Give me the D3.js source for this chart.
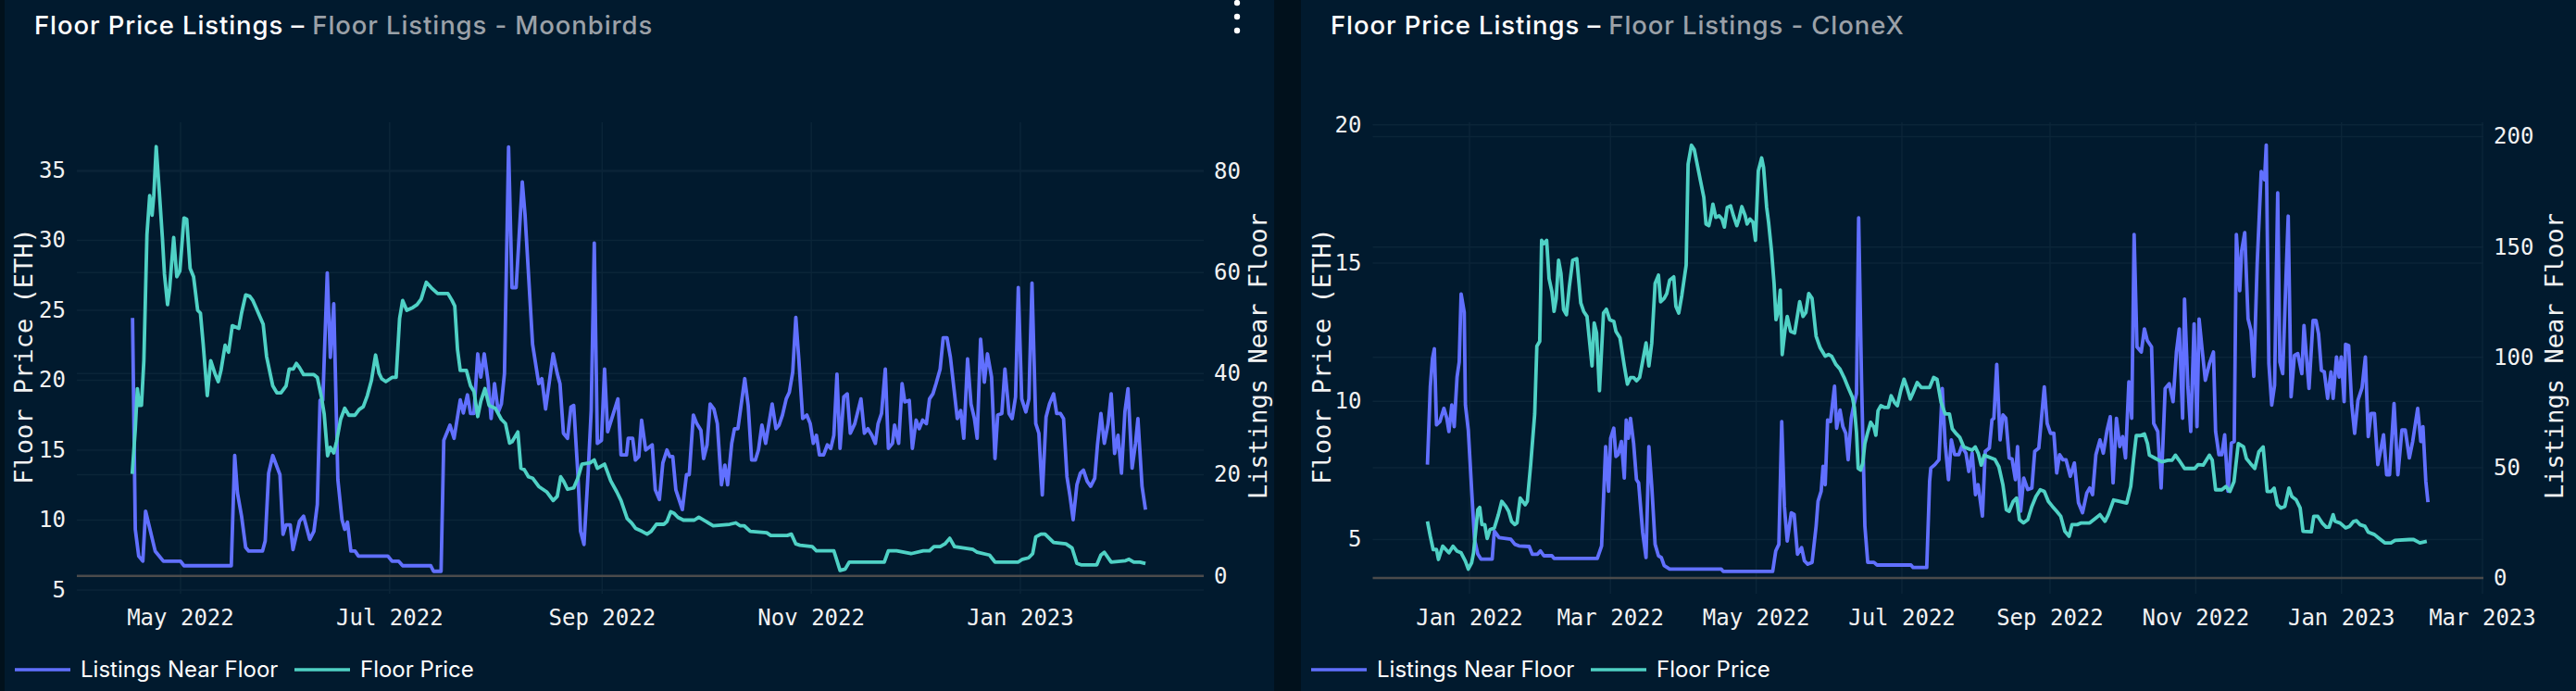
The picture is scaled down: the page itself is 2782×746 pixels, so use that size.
<!DOCTYPE html>
<html>
<head>
<meta charset="utf-8">
<script src="https://cdn.jsdelivr.net/npm/d3@7"></script>
<style>
  body { margin: 0; background: #01111c; }
  svg { display: block; }
</style>
</head>
<body>
<svg id="chart" width="2782" height="746"></svg>
<script>
// Series are [days from base date, value].
const MOONBIRDS_BASE = "2022-05-01";
const CLONEX_BASE = "2022-01-01";

const moonbirdsListings = [[-14,51],[-13.2,9.2],[-12.2,3.9],[-11,2.9],[-10.2,12.8],[-7.4,4.9],[-5,2.9],[0,2.9],[1,2],[14.8,2],[15.8,23.8],[16.6,16.4],[17.8,11.8],[19,5.6],[19.9,4.9],[23.9,4.9],[24.7,6.9],[25.7,20.3],[26.9,23.8],[29,20],[29.9,8.2],[30.8,10.1],[32,10.1],[32.8,5.2],[34.7,10.8],[35.9,11.8],[37.7,7.2],[38.9,8.8],[39.9,14.1],[40.7,34.7],[41.5,34.7],[42.8,59.9],[43.7,43.2],[44.7,53.8],[45.9,19],[47.1,11.1],[47.9,9.2],[48.7,10.6],[49.7,4.9],[50.9,4.9],[51.9,3.9],[60.5,3.9],[61.7,2.9],[63.6,2.9],[64.8,2],[73,2],[73.8,0.9],[76,0.9],[76.8,26.8],[78,28.8],[78.6,29.8],[79.8,27.2],[81.6,34.8],[82.5,32.2],[83.7,35.8],[84.6,32.1],[85.6,32.1],[86.7,43.9],[87.6,39.3],[88.6,43.9],[89.7,38.6],[90.6,31.1],[91.6,38],[92.7,32.4],[93.6,34],[94.5,40],[95.7,84.8],[96.7,57],[97.9,57],[99.7,77.9],[100.5,71.4],[102.7,45.8],[104.5,38],[105.4,39],[106.5,33],[108.7,43.9],[109.9,40],[110.7,38],[111.7,28.2],[112.9,27.2],[113.9,33.4],[114.7,33.7],[115.9,20.3],[116.7,8.8],[117.7,6.2],[118.9,20.3],[119.8,32.7],[120.7,65.8],[121.6,26.2],[122.8,26.8],[123.7,40.9],[124.6,28.5],[127.6,35],[128.5,23.9],[130.1,23.9],[130.6,27.2],[131.9,27.2],[132.7,22.9],[133.7,23.6],[134.5,30.8],[135.7,24.9],[137.6,25.9],[138.5,17],[139.7,15.1],[140.7,22.3],[141.9,24.9],[142.7,23.6],[143.6,23.6],[144.5,17],[146.4,13.1],[147.6,20],[148.4,20],[149.6,31.8],[150.6,30.1],[151.8,28.8],[152.6,23.2],[153.6,25.9],[154.5,34],[155.6,33],[156.6,30.1],[157.8,18],[158.8,21.9],[159.6,18],[160.8,26.2],[161.6,29.1],[162.6,29.1],[164.6,39],[165.6,33.7],[166.6,22.9],[167.7,22.9],[168.6,24.9],[169.6,29.8],[170.7,26.2],[172.6,34],[173.7,29.1],[174.6,29.8],[175.6,31.8],[176.7,35],[177.6,36.3],[178.6,40.3],[179.5,51.1],[180.4,42.6],[181.5,31.1],[182.7,31.8],[183.7,30.1],[184.6,26.2],[185.5,27.8],[186.4,23.9],[187.6,23.9],[188.7,25.9],[189.7,25.2],[190.6,27.8],[191.5,39.9],[192.4,25.2],[193.5,35.4],[194.5,36],[195.4,28.2],[196.7,30.1],[198.5,35],[199.5,28.2],[200.5,29.1],[201.7,27.8],[202.7,26.2],[203.5,30.1],[204.5,32.1],[205.6,40.9],[206.5,25.2],[207.7,26.2],[208.3,29.8],[209.5,26.2],[210.5,38],[211.3,34.4],[212.6,34.7],[213.5,25.2],[214.6,30.8],[215.5,29.1],[216.5,30.8],[217.6,30.1],[218.5,35],[219.5,36],[220.4,38],[221.6,40.9],[222.5,47.1],[223.6,47.1],[224.6,43.2],[225.8,36],[226.6,31.1],[227.6,32.7],[228.5,27.2],[229.6,42.9],[230.6,34],[231.6,31.1],[232.4,27.2],[233.4,46.8],[234.5,38.3],[235.4,43.9],[236.6,39.3],[237.6,23.2],[238.4,31.8],[239.6,32.1],[240.5,40.9],[241.7,32.1],[242.6,31.1],[243.6,35.4],[244.4,57],[245.4,35],[246.6,32.4],[247.5,35],[248.4,57.9],[249.5,30.1],[250.4,28.2],[251.4,16],[252.5,31.4],[253.5,34],[254.7,36],[255.6,32.1],[256.7,32.1],[257.6,31.1],[258.6,19.6],[259.5,15.7],[260.4,11.1],[261.5,18],[262.5,20.3],[263.4,20.9],[264.5,18.7],[265.5,17.7],[266.7,19.3],[267.5,25.9],[268.5,32.1],[269.5,26.2],[270.6,30.1],[271.5,36],[272.5,24.2],[273.5,27.8],[274.5,20.3],[275.5,32.4],[276.4,37],[277.6,21.3],[278.6,26.2],[279.3,31.1],[280.5,17.7],[281.5,13.1]];

const moonbirdsFloor = [[-14.1,13.3],[-13.2,16.5],[-12.6,19.4],[-12,18.2],[-11.4,18.2],[-10.7,21.4],[-9.8,30.4],[-9,33.2],[-8.3,31.8],[-7.8,33.2],[-7.1,36.7],[-6.2,33.5],[-5.3,30.2],[-4.7,27.6],[-3.8,25.4],[-3.2,26.5],[-2,30.2],[-1.1,27.4],[-0.2,27.8],[1,31.6],[1.8,31.5],[2.8,28],[3.8,27.4],[5,25],[5.8,24.8],[6.6,22.6],[7.8,18.9],[8.8,21.4],[10,20.5],[11,19.9],[11.8,20.7],[13,22.5],[14,22],[15.1,23.9],[17,23.7],[17.8,24.8],[19,26.1],[20.2,26],[21.1,25.7],[22,25.2],[24.1,24],[25.1,21.7],[26.9,19.6],[28.1,19.1],[29.3,19.1],[30.8,19.6],[31.7,20.8],[32.9,20.8],[33.8,21.2],[34.7,20.9],[35.9,20.4],[38.9,20.4],[39.9,20.2],[41.1,18.8],[41.9,17.6],[42.9,14.6],[43.7,15.2],[44.7,14.8],[45.5,15.6],[46.7,17.2],[47.9,18],[49.1,17.5],[50.9,17.5],[52.1,17.9],[53.3,18.1],[54.5,18.9],[55.7,20],[56.9,21.8],[57.9,20.5],[58.7,20.1],[59.9,19.9],[61.7,20.2],[62.9,20.2],[63.9,24.4],[64.8,25.7],[66,25],[67.8,25.2],[69,25.4],[70.2,25.8],[71.7,27],[73.2,26.6],[75,26.2],[78,26.2],[79.2,25.7],[80,25.3],[80.8,22.2],[81.6,20.7],[83.4,20.7],[84.6,19.6],[85.6,19.2],[86.7,17.4],[87.6,18.5],[88.8,19.4],[90,18.2],[91.8,18],[93.6,17.2],[94.8,16.9],[96,15.5],[96.7,15.6],[98.4,16.3],[99.3,13.7],[100.3,13.6],[101.5,13.1],[102.7,13],[104.5,12.4],[106.9,12],[108.7,11.4],[109.9,11.7],[110.9,13.1],[111.7,12.8],[112.9,12.2],[114.7,12.3],[115.9,13],[117.1,14],[119.5,14.1],[120.7,14.3],[121.6,13.7],[123.7,14],[125.5,12.8],[127.3,12],[128.5,11.4],[130.3,10.1],[131.6,9.8],[132.8,9.4],[134.6,9.2],[136.1,9],[137.3,9.2],[138.8,9.7],[141,9.7],[141.9,9.9],[143,10.6],[143.9,10.5],[145.1,10.2],[146.7,10],[149.9,10],[151.2,10.2],[155.4,9.6],[160.2,9.7],[162,9.8],[163.2,9.6],[164.4,9.6],[166.2,9.2],[171,9.1],[172.2,8.9],[177,8.9],[178.2,9],[179.5,8.3],[180.7,8.2],[184.3,8.1],[185.5,7.8],[190.6,7.8],[192.4,6.4],[193.9,6.5],[195.1,7],[205.3,7],[206.5,7.8],[208.9,7.8],[213.1,7.6],[216.7,7.8],[218.5,7.8],[219.8,8.1],[221.6,8.1],[223,8.3],[224.4,8.7],[225.8,8.1],[231.2,7.9],[232.4,7.7],[236,7.5],[237.6,7],[244.4,7],[245.6,7.2],[247.4,7.3],[248.6,7.6],[249.5,8.8],[251,9],[252.2,9],[254.7,8.4],[258.3,8.3],[260.1,8],[261.5,6.9],[262.7,6.8],[267.3,6.8],[268.5,7.5],[269.5,7.7],[271.5,7],[275.7,7.1],[276.7,7.2],[278.1,7],[279.9,7],[281.5,6.9]];

const clonexListings = [[-17.6,51.4],[-16.4,86.6],[-15.5,99.4],[-14.7,103.9],[-13.8,69.4],[-12.4,70.9],[-10.7,76.9],[-9.5,72.4],[-8.6,66.4],[-7.4,78.4],[-6.4,68.6],[-5.2,91.1],[-4.3,97.9],[-3.5,128.7],[-2.2,120.4],[-1.7,78.4],[-0.5,67.1],[0.9,40.1],[2.1,17.6],[3.5,10.8],[4.8,8.6],[9.5,8.6],[10.4,21.3],[12.4,18.3],[17.3,17.6],[19,15.3],[20.7,14.6],[25,14.3],[26.3,10.8],[28.5,10.8],[29.7,12.3],[31.1,10.1],[34.5,10.1],[35.4,8.9],[53.5,8.9],[55.3,14.6],[57,59.6],[58.2,39.3],[59.1,63.4],[60.4,67.9],[61.3,55.1],[62.2,55.9],[63.6,61.9],[64.8,45.3],[65.6,71.6],[66.5,63.4],[67.4,72.4],[68.7,61.1],[69.9,44.6],[70.8,43.1],[72.5,20.6],[73.9,9.3],[75.1,59.6],[76.3,41.6],[77.7,15.3],[79.1,10.1],[80.3,9.3],[81.5,5.6],[83.8,4.1],[105.4,4.1],[106.2,3],[126.9,3],[128.2,12.3],[129.5,15.3],[130.7,70.9],[131.8,32.6],[133,16.8],[134.7,29.6],[135.9,28.8],[137.3,10.8],[139,13.8],[140.2,7.8],[141.6,6.3],[143.4,7.1],[145.1,23.6],[145.9,34.8],[147.2,39.3],[148,50.6],[148.9,42.3],[149.9,71.6],[151.1,70.9],[152.8,86.9],[153.7,67.9],[155.1,76.1],[156.3,68.6],[157.5,65.6],[158.5,53.6],[159.8,72.4],[160.6,76.9],[162,83.6],[162.9,163.2],[164.1,89.6],[165.5,23.6],[166.7,7.1],[169.3,7.1],[170.6,5.9],[184.8,5.9],[185.7,4.8],[191.4,4.8],[192.6,43.8],[193.1,49.8],[194.8,51.4],[196.5,53.6],[197.9,85.9],[199.1,61.1],[200.5,44.6],[201.7,62.6],[203.1,55.9],[204.8,55.9],[206,59.6],[207.8,56.6],[209,48.3],[210.4,56.6],[211.8,37.8],[212.9,42.3],[214.7,28.1],[215.9,57.4],[217.6,58.9],[218.7,71.6],[219.5,72.4],[220.7,96.8],[222.1,62.6],[223.3,73.9],[224.5,72.4],[225.9,54.4],[227.1,53.9],[228.5,44.6],[229.4,59.6],[230.7,30.3],[232,45.3],[233.7,40.1],[235.4,40.8],[236.6,57.4],[238.3,58.9],[240.6,86.6],[241.8,70.1],[243.2,65.6],[244.6,65.6],[245.8,47.6],[247,55.9],[248.4,53.6],[249.7,53.6],[251.5,46.1],[253.2,52.1],[254.9,34.1],[256.6,29.6],[258.4,38.6],[259.6,40.8],[260.8,37.8],[262.2,55.9],[263.9,62.6],[265.3,56.6],[266.9,67.1],[268.2,73.1],[269.4,43.1],[270.8,72.4],[272.2,59.6],[273.4,64.1],[274.6,54.4],[276,88.9],[277.2,72.4],[278.2,155.7],[279.4,104.7],[281.2,102.4],[282.5,112.9],[283.7,107.7],[285.5,104.7],[286.4,70.1],[288.1,66.4],[289.5,40.8],[291.2,85.9],[292.9,88.1],[294.5,79.9],[295.9,102.4],[297.1,112.9],[298.5,72.4],[299.3,126.4],[300.7,86.6],[301.9,66.4],[303.3,115.2],[304.5,68.6],[305.4,117.4],[306.7,103.2],[308,89.6],[309.7,97.1],[311.4,102.4],[312.3,66.4],[313.7,55.9],[314.9,55.9],[316.1,64.9],[317.5,39.3],[318.9,61.1],[320.1,61.9],[321,155.7],[322.4,130.2],[323.2,148.2],[324.5,156.5],[325.9,117.4],[327.1,112.2],[328.3,91.4],[329.7,142.2],[331.4,184.2],[332.8,180.5],[333.5,196.2],[334.6,97.1],[335.8,78.4],[337,87.4],[338.3,174.5],[339.2,97.9],[340.4,92.6],[341.8,136.9],[342.7,164],[343.9,82.1],[345.3,100.9],[346.7,101.7],[348.4,92.6],[349.3,114.4],[351.4,85.9],[353.1,116.7],[354.3,116.7],[355.4,110.7],[356.6,94.1],[357.8,93.4],[359.2,81.4],[360.6,93.4],[361.5,81.4],[362.9,100.2],[364,91.1],[364.9,100.2],[366.1,79.9],[366.7,105.9],[368,105.4],[369.3,78.4],[370.5,65.6],[371.9,80.6],[373.6,86.2],[375,100.2],[376.2,64.1],[377.4,74.6],[378.8,74.6],[380.2,51.4],[381.3,57.4],[382.6,64.9],[383.9,46.8],[385.1,46.8],[387,79.1],[388.6,46.8],[390.3,67.1],[391.7,67.1],[393.4,54.4],[394.8,61.9],[396.9,76.9],[398.2,61.9],[399.1,68.6],[400.3,43.8],[401.2,34.4]];

const clonexFloor = [[-17.6,5.66],[-16.4,5.12],[-15.2,4.64],[-13.8,4.64],[-13,4.28],[-11.2,4.76],[-8.6,4.52],[-6.9,4.76],[-5.2,4.58],[-3.5,4.52],[-1.7,4.22],[-0.5,3.93],[0.9,4.16],[1.7,4.52],[3.5,6.08],[4.3,6.16],[5.2,5.54],[6.4,5.54],[7.4,5.04],[8.6,5.36],[10.4,5.42],[12.1,5.9],[13.5,6.38],[15.2,6.2],[16.4,6.02],[17.6,5.66],[19,5.54],[19.9,5.6],[21.2,6.5],[23.3,6.26],[24.2,6.38],[25.6,7.69],[27.3,9.54],[28.2,11.99],[29.4,12.17],[30.2,15.82],[31.1,15.7],[32.3,15.82],[33.3,14.44],[34.5,13.96],[35.4,13.25],[36.3,13.72],[37.3,15.1],[38.3,14.62],[39.4,13.31],[40.6,13.13],[41.8,14.14],[43.2,15.1],[44.9,15.16],[46.6,13.55],[47.8,13.25],[49.2,13.07],[51.3,11.28],[52.2,12.83],[53.2,12.47],[54.4,10.38],[56.1,13.19],[57.3,13.33],[58.7,12.95],[60.4,12.89],[61.3,12.53],[63,12.29],[64.8,11.28],[66.1,10.62],[67.4,10.86],[68.7,10.86],[69.9,10.74],[71.2,10.86],[72.5,11.45],[73.9,12.11],[75.1,11.28],[76.3,12.11],[77.7,14.26],[79.1,14.56],[80,13.6],[81.5,13.72],[82.6,13.9],[83.8,14.38],[85.5,14.5],[86.4,13.43],[87.6,13.19],[88.9,13.84],[90.7,14.92],[91.5,18.57],[92.9,19.26],[94.1,19.1],[96.7,17.97],[98.1,17.37],[99,16.41],[100.2,16.35],[101,16.65],[101.9,17.13],[103.1,16.65],[104.5,16.71],[105.7,16.59],[106.7,16.3],[107.9,17.01],[109.3,17.07],[110.5,16.71],[111.9,16.35],[112.8,16.59],[114,17.04],[115.4,16.71],[116.2,16.41],[117.4,16.59],[118.7,16.47],[119.7,15.82],[120.9,18.33],[122.3,18.8],[123.1,18.45],[124.4,17.01],[125.2,16.47],[126.4,15.46],[127.5,14.26],[128.3,12.95],[129.2,13.25],[130.1,14.02],[130.9,11.69],[132.1,12.59],[133,13.07],[134.4,12.53],[136.1,12.47],[138.2,13.6],[139.6,13.07],[140.8,13.21],[142,13.9],[143.4,13.72],[145.1,12.35],[146.8,11.93],[148.9,11.63],[150.3,11.69],[151.6,11.63],[153.4,11.33],[155.1,11.16],[156.8,10.86],[158.5,10.5],[160.3,10.14],[161.1,9.78],[162,8.88],[162.7,7.57],[163.7,7.51],[164.6,7.75],[165.5,8.47],[166.7,8.88],[167.9,9.24],[169.3,9.06],[170.1,8.77],[171,9.66],[172.2,9.84],[173.6,9.78],[175.3,9.78],[176.5,10.2],[177.9,9.96],[179.1,9.84],[180.5,10.38],[181.9,10.8],[183.1,10.5],[184.5,10.08],[185.7,10.32],[187.4,10.68],[189.1,10.5],[192.6,10.5],[194.3,10.86],[195.7,10.8],[197.4,9.96],[199.1,9.54],[200.9,9.54],[202.1,9],[203.8,8.82],[205.2,8.7],[206.9,8.35],[208.6,8.29],[210.4,8.23],[211.7,8.35],[213,8.11],[214.2,7.69],[215.5,8.05],[217.2,7.99],[219.9,7.9],[221.6,7.63],[223.3,6.97],[224.7,6.08],[225.9,6.02],[227.6,6.38],[229,6.5],[230.2,5.72],[231.9,5.6],[233.7,5.72],[235.4,6.2],[237.1,6.56],[238.9,6.8],[240.6,6.74],[242.3,6.38],[244,6.2],[245.8,6.02],[247.5,5.84],[249.2,5.3],[251,5.12],[252.2,5.54],[254.4,5.54],[256.1,5.6],[259.6,5.6],[262.2,5.78],[263.9,5.9],[266,5.66],[267.4,5.9],[269.6,6.43],[272.2,6.38],[275.1,6.32],[276.8,6.92],[278,7.93],[279.1,8.76],[280.8,8.76],[282.5,8.82],[283.8,8.47],[284.6,8.05],[287.2,7.93],[289.8,7.81],[292.4,7.87],[294.1,7.87],[295.5,8.05],[297,7.87],[299.3,7.57],[303.6,7.57],[305,7.71],[307.1,7.69],[309.7,8.05],[310.9,7.87],[312.3,6.8],[314.9,6.8],[316.6,6.92],[318.3,6.74],[320,7.09],[321.8,8.47],[324,8.35],[325.2,7.93],[326.9,7.75],[328.7,7.57],[330.4,8.17],[332.2,8.35],[333.9,6.74],[335.6,6.74],[336.8,6.86],[338.2,6.26],[339.6,6.14],[341.3,6.2],[343,6.86],[344.2,6.56],[346,6.44],[347.7,6.14],[348.9,5.3],[352.4,5.28],[353.4,5.84],[355.1,5.84],[356.9,5.6],[358.6,5.45],[359.8,5.45],[361.5,5.9],[362.3,5.66],[364.4,5.6],[366.7,5.42],[368.4,5.48],[370.1,5.66],[371.3,5.68],[372.7,5.54],[374.8,5.48],[376.2,5.27],[378.8,5.18],[380.5,5.06],[383.1,4.88],[385.7,4.88],[387.4,4.97],[393.4,5],[395.2,5],[397.8,4.88],[400.7,4.94]];

const moonbirdsPriceTicks = [5, 10, 15, 20, 25, 30, 35];
const moonbirdsListingTicks = [0, 20, 40, 60, 80];
const clonexPriceTicks = [5, 10, 15, 20];
const clonexListingTicks = [0, 50, 100, 150, 200];

const SERIES_NAMES = ["Listings Near Floor", "Floor Price"];
const LISTINGS_COLOR = "#6170ff";
const FLOOR_COLOR = "#4fd1c5";
const PANEL_BG = "#011a2e";
const GRID_COLOR = "#0b2538";
const ZERO_COLOR = "#4b4b4b";
const MONO = "'DejaVu Sans Mono', monospace";
const SANS = "Inter, 'Noto Sans', sans-serif";

const svg = d3.select("#chart");

const toDate = (base, days) =>
  new Date(Date.parse(base + "T00:00:00Z") + days * 864e5);

const drawPanel = (cfg) => {
  const g = svg.append("g");

  g.append("rect")
    .attr("x", cfg.x0)
    .attr("y", 0)
    .attr("width", cfg.x1 - cfg.x0)
    .attr("height", 746)
    .attr("fill", PANEL_BG);

  const p = cfg.plot;
  const x = d3
    .scaleUtc()
    .domain(cfg.xDays.map((d) => toDate(cfg.base, d)))
    .range([p.left, p.right]);
  const yL = d3.scaleLinear().domain(cfg.yLeft).range([p.bottom, p.top]);
  const yR = d3.scaleLinear().domain(cfg.yRight).range([p.bottom, p.top]);

  // grid lines for both y axes and the month ticks
  const months = x.ticks(d3.utcMonth.every(2));
  g.selectAll(".vgrid")
    .data(months)
    .enter()
    .append("line")
    .attr("x1", (d) => x(d))
    .attr("x2", (d) => x(d))
    .attr("y1", p.top)
    .attr("y2", p.bottom)
    .attr("stroke", GRID_COLOR)
    .attr("stroke-width", 1.5);

  const hgrid = cfg.leftTicks
    .map((v) => yL(v))
    .concat(cfg.rightTicks.filter((v) => v !== 0).map((v) => yR(v)));
  g.selectAll(".hgrid")
    .data(hgrid)
    .enter()
    .append("line")
    .attr("x1", p.left)
    .attr("x2", p.right)
    .attr("y1", (d) => d)
    .attr("y2", (d) => d)
    .attr("stroke", GRID_COLOR)
    .attr("stroke-width", 1.5);

  g.append("line")
    .attr("x1", p.left)
    .attr("x2", p.right)
    .attr("y1", yR(0))
    .attr("y2", yR(0))
    .attr("stroke", ZERO_COLOR)
    .attr("stroke-width", 2.5);

  // axes: tick text only
  const tickText = (sel) =>
    sel
      .attr("font-family", MONO)
      .attr("font-size", "24px")
      .attr("fill", "#f2f2f2")
      .attr("dominant-baseline", "central");

  g.selectAll(".xt")
    .data(months)
    .enter()
    .append("text")
    .text((d) => d3.utcFormat("%b %Y")(d))
    .attr("x", (d) => x(d))
    .attr("y", 667)
    .attr("text-anchor", "middle")
    .call(tickText);

  g.selectAll(".ylt")
    .data(cfg.leftTicks)
    .enter()
    .append("text")
    .text((d) => d)
    .attr("x", p.left - 12)
    .attr("y", (d) => yL(d))
    .attr("text-anchor", "end")
    .call(tickText);

  g.selectAll(".yrt")
    .data(cfg.rightTicks)
    .enter()
    .append("text")
    .text((d) => d)
    .attr("x", p.right + 11)
    .attr("y", (d) => yR(d))
    .attr("text-anchor", "start")
    .call(tickText);

  const axisTitle = (text, cx) =>
    g.append("text")
      .text(text)
      .attr("transform", `translate(${cx},${(p.top + p.bottom) / 2 - 2}) rotate(-90)`)
      .attr("text-anchor", "middle")
      .attr("dominant-baseline", "central")
      .attr("font-family", MONO)
      .attr("font-size", "27px")
      .attr("fill", "#f2f2f2");

  axisTitle("Floor Price (ETH)", cfg.leftTitleX);
  axisTitle("Listings Near Floor", cfg.rightTitleX);

  // the two series
  const lineR = d3
    .line()
    .x((d) => x(toDate(cfg.base, d[0])))
    .y((d) => yR(d[1]));
  const lineL = d3
    .line()
    .x((d) => x(toDate(cfg.base, d[0])))
    .y((d) => yL(d[1]));

  g.append("path")
    .datum(cfg.listings)
    .attr("d", lineR)
    .attr("fill", "none")
    .attr("stroke", LISTINGS_COLOR)
    .attr("stroke-width", 3.8)
    .attr("stroke-linejoin", "round");

  g.append("path")
    .datum(cfg.floor)
    .attr("d", lineL)
    .attr("fill", "none")
    .attr("stroke", FLOOR_COLOR)
    .attr("stroke-width", 3.8)
    .attr("stroke-linejoin", "round");

  // title
  const title = g
    .append("text")
    .attr("x", cfg.x0 + 32)
    .attr("y", 37)
    .attr("font-family", SANS)
    .attr("font-size", "27.5px")
    .attr("letter-spacing", "0.9px")
    .attr("font-weight", 500);
  title.append("tspan").attr("fill", "#ffffff").text("Floor Price Listings – ");
  title.append("tspan").attr("fill", "#9ba1a8").text(cfg.subtitle);

  if (cfg.menu) {
    g.selectAll(".dot")
      .data([3, 18, 33])
      .enter()
      .append("circle")
      .attr("cx", cfg.x1 - 40)
      .attr("cy", (d) => d)
      .attr("r", 3.2)
      .attr("fill", "#ffffff");
  }

  // legend
  const legendX = [cfg.x0 + 11, cfg.x0 + 313];
  const colors = [LISTINGS_COLOR, FLOOR_COLOR];
  SERIES_NAMES.forEach((name, i) => {
    g.append("line")
      .attr("x1", legendX[i])
      .attr("x2", legendX[i] + 60)
      .attr("y1", 723)
      .attr("y2", 723)
      .attr("stroke", colors[i])
      .attr("stroke-width", 3.5);
    g.append("text")
      .text(name)
      .attr("x", legendX[i] + 71)
      .attr("y", 731)
      .attr("font-family", SANS)
      .attr("font-size", "24px")
      .attr("fill", "#ffffff");
  });
};

drawPanel({
  x0: 5,
  x1: 1376,
  plot: { left: 83, right: 1300, top: 132, bottom: 641 },
  base: MOONBIRDS_BASE,
  xDays: [-30.25, 298.5],
  yLeft: [4.735, 38.44],
  yRight: [-3.54, 89.7],
  leftTicks: moonbirdsPriceTicks,
  rightTicks: moonbirdsListingTicks,
  leftTitleX: 25,
  rightTitleX: 1358,
  subtitle: "Floor Listings - Moonbirds",
  menu: true,
  listings: moonbirdsListings,
  floor: moonbirdsFloor,
});

drawPanel({
  x0: 1405,
  x1: 2782,
  plot: { left: 1482.5, right: 2682, top: 132, bottom: 641 },
  base: CLONEX_BASE,
  xDays: [-40.5, 424.4],
  yLeft: [3.04, 20.09],
  yRight: [-7.1, 206.5],
  leftTicks: clonexPriceTicks,
  rightTicks: clonexListingTicks,
  leftTitleX: 1427,
  rightTitleX: 2758,
  subtitle: "Floor Listings - CloneX",
  menu: false,
  listings: clonexListings,
  floor: clonexFloor,
});
</script>
</body>
</html>
